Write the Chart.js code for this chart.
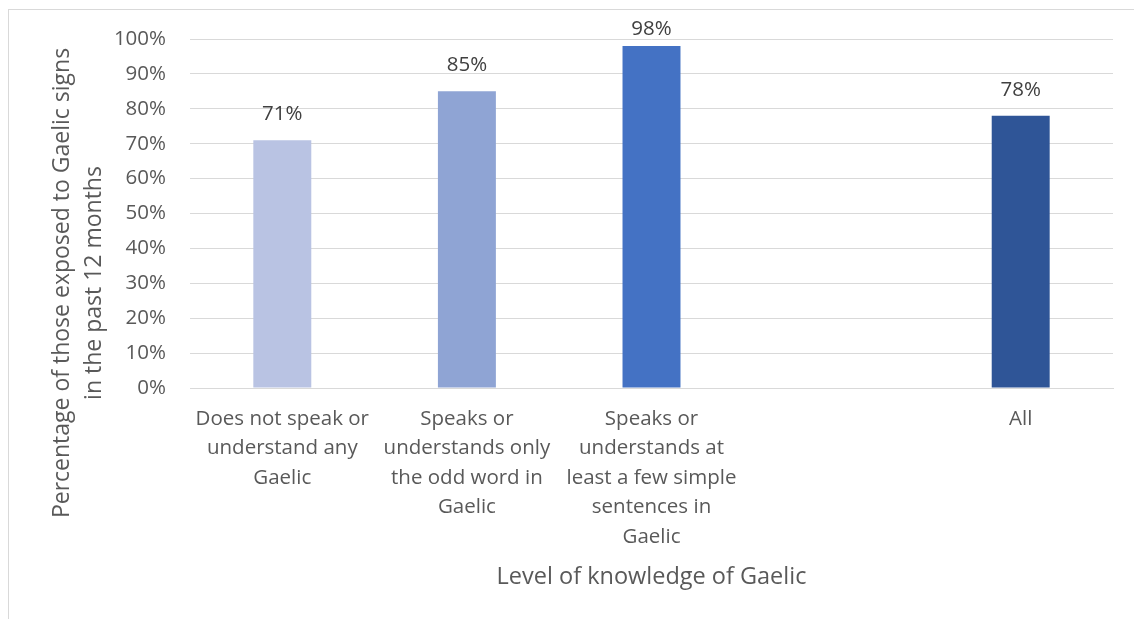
<!DOCTYPE html>
<html>
<head>
<meta charset="utf-8">
<script src="https://cdn.jsdelivr.net/npm/chart.js@4"></script>
<style>
  html, body { margin: 0; padding: 0; background: #fff; overflow: hidden; }
  #wrap { position: relative; width: 1134px; height: 619px; }
  #frame { position: absolute; left: 8px; top: 9px; width: 1200px; height: 700px; border: 1px solid #d9d9d9; box-sizing: border-box; }
  #myChart { position: absolute; left: 0; top: 0; }
</style>
</head>
<body>
<div id="wrap">
  <div id="frame"></div>
  <canvas id="myChart" width="1134" height="619"></canvas>
</div>
<script>
const categories = [
  ['Does not speak or', 'understand any', 'Gaelic'],
  ['Speaks or', 'understands only', 'the odd word in', 'Gaelic'],
  ['Speaks or', 'understands at', 'least a few simple', 'sentences in', 'Gaelic'],
  '',
  'All'
];
const values = [71, 85, 98, null, 78];
const barColors = ['#b9c3e3', '#8fa4d4', '#4472c4', '#4472c4', '#2f5597'];
const yTitle = ['Percentage of those exposed to Gaelic signs', 'in the past 12 months'];
const xTitle = 'Level of knowledge of Gaelic';

const fontFamily = '"Open Sans", Calibri, sans-serif';
const textColor = '#595959';

// value labels above bars
const valueLabels = {
  id: 'valueLabels',
  afterDatasetsDraw(chart) {
    const c = chart.ctx;
    const meta = chart.getDatasetMeta(0);
    c.save();
    c.font = `20.5px ${fontFamily}`;
    c.fillStyle = '#404040';
    c.textAlign = 'center';
    c.textBaseline = 'middle';
    meta.data.forEach((bar, i) => {
      if (values[i] == null) return;
      const y = Math.max(bar.y - 26, 29);
      c.fillText(values[i] + '%', bar.x, y);
    });
    c.restore();
  }
};

// y axis title, centred a bit lower than the plot like the original
const yTitlePlugin = {
  id: 'yTitlePlugin',
  afterDraw(chart) {
    const c = chart.ctx;
    c.save();
    c.font = `23px ${fontFamily}`;
    c.fillStyle = textColor;
    c.textAlign = 'center';
    c.textBaseline = 'middle';
    c.translate(62, 283);
    c.rotate(-Math.PI / 2);
    yTitle.forEach((line, i) => {
      c.fillText(line, 0, i * 32);
    });
    c.restore();
  }
};

const ctx = document.getElementById('myChart');
const chart = new Chart(ctx, {
  type: 'bar',
  data: {
    labels: categories,
    datasets: [{
      data: values,
      backgroundColor: barColors,
      barPercentage: 1,
      categoryPercentage: 0.314
    }]
  },
  plugins: [valueLabels, yTitlePlugin],
  options: {
    responsive: false,
    animation: false,
    layout: { padding: { left: 0, top: 39, right: 21, bottom: 0 } },
    plugins: {
      legend: { display: false },
      tooltip: { enabled: false }
    },
    scales: {
      x: {
        grid: { display: false, drawTicks: false },
        border: { color: '#d9d9d9', width: 1 },
        ticks: {
          color: textColor,
          font: { family: fontFamily, size: 20.5, lineHeight: 1.44 },
          padding: 16,
          maxRotation: 0,
          autoSkip: false
        },
        title: {
          display: true,
          text: xTitle,
          color: textColor,
          font: { family: fontFamily, size: 23.5, lineHeight: 1.2 },
          padding: { top: 0, bottom: 28 }
        },
        afterFit: scale => { scale.height = 231; }
      },
      y: {
        min: 0,
        max: 100,
        grid: { color: '#d9d9d9', lineWidth: 1, drawTicks: false },
        border: { display: false },
        ticks: {
          stepSize: 10,
          color: textColor,
          font: { family: fontFamily, size: 20.5 },
          padding: 24,
          callback: v => v + '%'
        },
        afterFit: scale => { scale.width = 190; }
      }
    }
  }
});
</script>
</body>
</html>
